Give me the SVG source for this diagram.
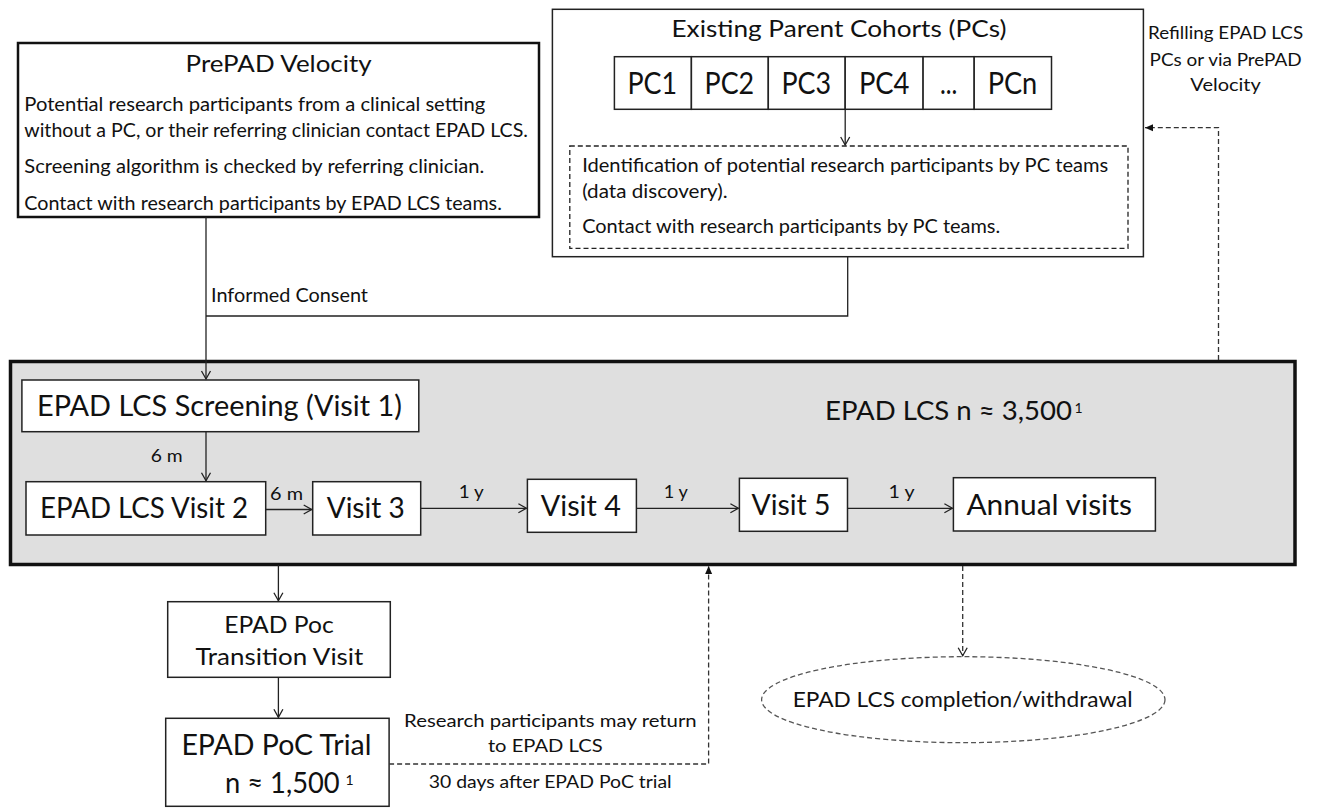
<svg xmlns="http://www.w3.org/2000/svg" width="1318" height="810" viewBox="0 0 1318 810">
<style>
text{font-family:Lato,"Liberation Sans",sans-serif;fill:#111}
.box{fill:#fff;stroke:#222;stroke-width:1.5}
.thick{fill:#fff;stroke:#111;stroke-width:2.5}
.dash{fill:none;stroke:#222;stroke-width:1.3;stroke-dasharray:5,3}
.ln{fill:none;stroke:#222;stroke-width:1.3}
.dl{fill:none;stroke:#333;stroke-width:1.3;stroke-dasharray:5,3}
.b{font-size:19.5px}
.s{font-size:17.5px}
.v{font-size:28.5px}
.c{text-anchor:middle}
</style>
<defs>
<marker id="open" markerUnits="userSpaceOnUse" markerWidth="12" markerHeight="12" refX="9" refY="5.5" orient="auto"><path d="M1,1 L9,5.5 L1,10" fill="none" stroke="#222" stroke-width="1.3"/></marker>
<marker id="fill" markerUnits="userSpaceOnUse" markerWidth="10" markerHeight="10" refX="8" refY="4" orient="auto"><path d="M0,0.5 L8,4 L0,7.5 z" fill="#111"/></marker>
</defs>

<g id="lcs">
<rect x="10.5" y="361.5" width="1284.5" height="203" fill="#dfdfdf" stroke="#111" stroke-width="3.5"/>
<text x="825" y="420" font-size="26.5" textLength="247" lengthAdjust="spacingAndGlyphs">EPAD LCS n ≈ 3,500</text>
<text x="1074.5" y="413" font-size="14">1</text>
</g>

<g id="prepad">
<rect class="thick" x="18" y="43" width="521" height="174"/>
<text class="c" x="278.6" y="72" font-size="24" textLength="186" lengthAdjust="spacingAndGlyphs">PrePAD Velocity</text>
<text class="b" x="24.3" y="110.7" textLength="461" lengthAdjust="spacingAndGlyphs">Potential research participants from a clinical setting</text>
<text class="b" x="24.3" y="136.7" textLength="503.6" lengthAdjust="spacingAndGlyphs">without a PC, or their referring clinician contact EPAD LCS.</text>
<text class="b" x="24.3" y="173.3" textLength="460" lengthAdjust="spacingAndGlyphs">Screening algorithm is checked by referring clinician.</text>
<text class="b" x="24.3" y="210" textLength="477.5" lengthAdjust="spacingAndGlyphs">Contact with research participants by EPAD LCS teams.</text>
</g>

<g id="pcs">
<rect class="box" x="552.4" y="9.3" width="591" height="247.4" stroke-width="1.8"/>
<text x="671.5" y="36.5" font-size="23" textLength="335" lengthAdjust="spacingAndGlyphs">Existing Parent Cohorts (PCs)</text>
<g id="pc-cells">
<rect class="box" x="614.4" y="56.7" width="77" height="52.6"/>
<rect class="box" x="691.4" y="56.7" width="76.9" height="52.6"/>
<rect class="box" x="768.3" y="56.7" width="76.9" height="52.6"/>
<rect class="box" x="845.2" y="56.7" width="77.9" height="52.6"/>
<rect class="box" x="923.1" y="56.7" width="51.1" height="52.6"/>
<rect class="box" x="974.2" y="56.7" width="77.3" height="52.6"/>
<text class="c" x="652.3" y="93.5" font-size="30" textLength="49.6" lengthAdjust="spacingAndGlyphs">PC1</text>
<text class="c" x="729.4" y="93.5" font-size="30" textLength="49.6" lengthAdjust="spacingAndGlyphs">PC2</text>
<text class="c" x="806.3" y="93.5" font-size="30" textLength="49.6" lengthAdjust="spacingAndGlyphs">PC3</text>
<text class="c" x="884.2" y="93.5" font-size="30" textLength="50.6" lengthAdjust="spacingAndGlyphs">PC4</text>
<text class="c" x="948.7" y="93.5" font-size="30" textLength="17.4" lengthAdjust="spacingAndGlyphs">...</text>
<text class="c" x="1012.5" y="93.5" font-size="30" textLength="49.6" lengthAdjust="spacingAndGlyphs">PCn</text>
</g>
<g id="pc-identification">
<rect class="dash" x="569.8" y="146" width="558.2" height="102.3"/>
<text class="b" x="582.2" y="171.7" font-size="19" textLength="526" lengthAdjust="spacingAndGlyphs">Identification of potential research participants by PC teams</text>
<text class="b" x="582.2" y="198.3" font-size="19" textLength="145.4" lengthAdjust="spacingAndGlyphs">(data discovery).</text>
<text class="b" x="582.2" y="233.3" font-size="19" textLength="418" lengthAdjust="spacingAndGlyphs">Contact with research participants by PC teams.</text>
</g>
</g>

<g id="refill-note">
<text class="s c" x="1225.6" y="39" textLength="155" lengthAdjust="spacingAndGlyphs">Refilling EPAD LCS</text>
<text class="s c" x="1225.6" y="66" textLength="152" lengthAdjust="spacingAndGlyphs">PCs or via PrePAD</text>
<text class="s c" x="1225.6" y="91" textLength="70.5" lengthAdjust="spacingAndGlyphs">Velocity</text>
</g>

<g id="screening">
<rect class="box" x="21.9" y="380" width="396.9" height="51.7"/>
<text class="v" x="37" y="416" textLength="365" lengthAdjust="spacingAndGlyphs">EPAD LCS Screening (Visit 1)</text>
</g>
<g id="visit2">
<rect class="box" x="26" y="481.7" width="239.7" height="53.3"/>
<text class="v" x="40" y="518.3" textLength="208" lengthAdjust="spacingAndGlyphs">EPAD LCS Visit 2</text>
</g>
<g id="visit3">
<rect class="box" x="312.7" y="481.7" width="108" height="53.3"/>
<text class="v" x="326.7" y="518.3" textLength="78" lengthAdjust="spacingAndGlyphs">Visit 3</text>
</g>
<g id="visit4">
<rect class="box" x="527.4" y="479.3" width="109" height="53"/>
<text class="v" x="540.8" y="515.5" textLength="80" lengthAdjust="spacingAndGlyphs">Visit 4</text>
</g>
<g id="visit5">
<rect class="box" x="739.4" y="478.3" width="108.1" height="53"/>
<text class="v" x="751.5" y="515" textLength="79" lengthAdjust="spacingAndGlyphs">Visit 5</text>
</g>
<g id="annual">
<rect class="box" x="953.4" y="477.7" width="202" height="53.3"/>
<text class="v" x="966.4" y="515" textLength="165.6" lengthAdjust="spacingAndGlyphs">Annual visits</text>
</g>

<g id="transition">
<rect class="box" x="167.7" y="601.7" width="222.6" height="75.6"/>
<text class="c" x="279" y="632.7" font-size="24" textLength="109.5" lengthAdjust="spacingAndGlyphs">EPAD Poc</text>
<text class="c" x="279.4" y="665" font-size="24" textLength="168" lengthAdjust="spacingAndGlyphs">Transition Visit</text>
</g>

<g id="poc">
<rect class="box" x="165.7" y="718.3" width="223.4" height="88"/>
<text class="c" x="276.4" y="755" font-size="28.5" textLength="190" lengthAdjust="spacingAndGlyphs">EPAD PoC Trial</text>
<text x="225" y="793.3" font-size="28.5" textLength="114.7" lengthAdjust="spacingAndGlyphs">n ≈ 1,500</text>
<text x="345.6" y="785" font-size="14">1</text>
</g>

<g id="completion">
<ellipse cx="963.3" cy="699.7" rx="201.7" ry="43" fill="none" stroke="#555" stroke-width="1.3" stroke-dasharray="5,3"/>
<text class="c" x="962.7" y="706.7" font-size="21" textLength="340" lengthAdjust="spacingAndGlyphs">EPAD LCS completion/withdrawal</text>
</g>

<g id="connectors">
<path class="ln" d="M206,217 V379" marker-end="url(#open)"/>
<path class="ln" d="M847.7,256.7 V316 H206"/>
<text class="b" x="211" y="301.7" textLength="157" lengthAdjust="spacingAndGlyphs">Informed Consent</text>
<path class="ln" d="M845.2,109.3 V145" marker-end="url(#open)"/>
<path class="ln" d="M206,431.7 V480.7" marker-end="url(#open)"/>
<text class="s" x="150.7" y="461.7" textLength="32" lengthAdjust="spacingAndGlyphs">6 m</text>
<path class="ln" d="M265.7,509.5 H311.7" marker-end="url(#open)"/>
<text class="s" x="270" y="500" textLength="33" lengthAdjust="spacingAndGlyphs">6 m</text>
<path class="ln" d="M420.7,508.3 H526.4" marker-end="url(#open)"/>
<text class="s" x="458.8" y="498.3" textLength="25" lengthAdjust="spacingAndGlyphs">1 y</text>
<path class="ln" d="M636.4,508.3 H738.4" marker-end="url(#open)"/>
<text class="s" x="663.8" y="498.3" textLength="24" lengthAdjust="spacingAndGlyphs">1 y</text>
<path class="ln" d="M847.5,508.3 H952.4" marker-end="url(#open)"/>
<text class="s" x="888.6" y="498.3" textLength="26" lengthAdjust="spacingAndGlyphs">1 y</text>
<path class="ln" d="M278.4,565 V600.7" marker-end="url(#open)"/>
<path class="ln" d="M278.4,677.3 V717.3" marker-end="url(#open)"/>
<path class="dl" d="M389.1,764 H708.6 V566" marker-end="url(#fill)"/>
<text class="s c" x="550.4" y="726.7" textLength="292.6" lengthAdjust="spacingAndGlyphs">Research participants may return</text>
<text class="s c" x="545.3" y="751.7" textLength="114.7" lengthAdjust="spacingAndGlyphs">to EPAD LCS</text>
<text class="s c" x="550.2" y="788.3" textLength="243" lengthAdjust="spacingAndGlyphs">30 days after EPAD PoC trial</text>
<path class="dl" d="M1218.5,360 V127.7 H1145" marker-end="url(#fill)"/>
<path class="dl" d="M962.7,566 V655.7" marker-end="url(#open)"/>
</g>
</svg>
